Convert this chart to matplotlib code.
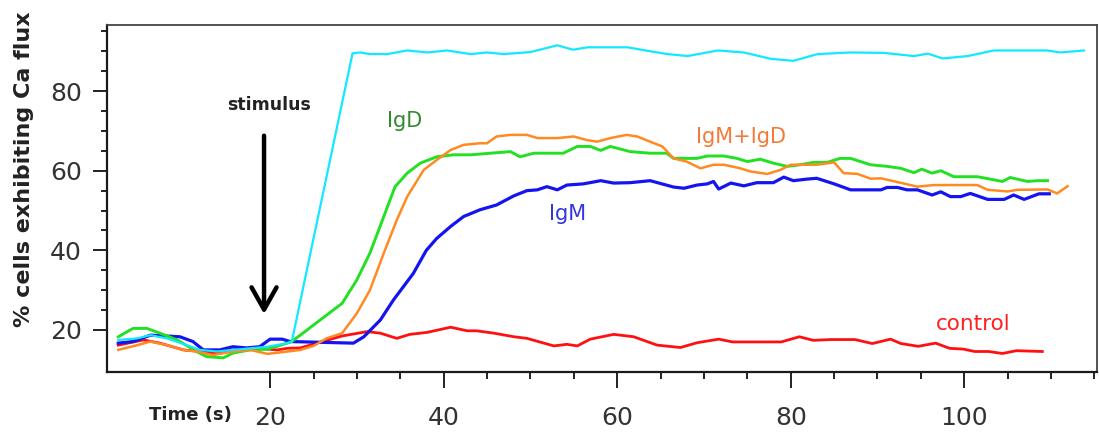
import matplotlib
matplotlib.use("Agg")
import matplotlib.pyplot as plt
from matplotlib.ticker import FixedLocator
from matplotlib.patches import FancyArrowPatch

# Percentage of cells showing calcium flux over time for each stimulus
t_control = [2.5, 5.4, 7.3, 10.0, 11.9, 13.9, 15.7, 18.5, 20.8, 22.0, 23.5, 25.4, 28.3, 31.2, 32.7,
             34.6, 36.1, 38.1, 40.8, 42.7, 43.8, 45.8, 48.1, 49.6, 52.7, 54.2, 55.4, 56.9, 59.6, 61.9,
             64.6, 67.3, 69.2, 71.7, 73.3, 74.9, 78.9, 81.0, 82.6, 84.6, 87.4, 89.4, 91.5, 92.7, 94.7,
             96.7, 98.3, 99.9, 101.2, 102.8, 104.4, 106.0, 109.0]
control = [16.2, 17.5, 16.7, 15.0, 14.6, 14.2, 15.0, 15.4, 15.0, 15.4, 15.5, 16.7, 18.5, 19.6, 19.2,
           17.9, 18.9, 19.4, 20.7, 19.8, 19.8, 19.2, 18.3, 17.9, 16.0, 16.4, 16.0, 17.7, 18.9, 18.3,
           16.2, 15.6, 16.8, 17.7, 17.0, 17.0, 17.0, 18.3, 17.4, 17.6, 17.6, 16.6, 17.7, 16.6, 15.9,
           16.7, 15.4, 15.2, 14.6, 14.6, 14.1, 14.8, 14.6]

t_igm = [2.5, 4.2, 6.2, 9.6, 11.1, 12.3, 14.2, 15.7, 17.3, 18.8, 20.0, 21.4, 22.3, 29.6, 30.8,
         32.7, 34.2, 36.5, 38.0, 39.2, 40.8, 42.3, 44.2, 46.1, 48.1, 49.6, 50.8, 51.9, 53.1, 54.2,
         56.1, 58.1, 59.6, 61.5, 63.8, 66.5, 67.7, 69.2, 70.4, 71.1, 71.7, 73.1, 74.6, 76.1, 78.0,
         79.2, 80.3, 81.9, 83.0, 85.0, 86.9, 90.4, 91.1, 92.3, 93.4, 94.6, 96.3, 97.3, 98.4, 99.6,
         100.7, 102.7, 104.6, 105.7, 106.9, 108.6, 109.8]
igm = [16.7, 17.1, 18.7, 18.3, 17.1, 15.0, 15.0, 15.8, 15.5, 15.8, 17.7, 17.7, 17.1, 16.7, 18.3,
       22.5, 27.5, 34.2, 40.0, 43.0, 46.0, 48.5, 50.2, 51.4, 53.7, 55.0, 55.2, 56.0, 55.2, 56.4,
       56.7, 57.5, 56.9, 57.0, 57.5, 55.9, 55.6, 56.4, 56.7, 57.3, 55.4, 56.9, 56.2, 57.0, 57.0,
       58.4, 57.5, 57.9, 58.1, 56.7, 55.2, 55.2, 55.8, 55.8, 55.2, 55.2, 53.9, 54.7, 53.5, 53.5,
       54.3, 52.8, 52.8, 53.9, 52.8, 54.2, 54.2]

t_igd = [2.5, 4.2, 5.8, 7.3, 9.3, 11.6, 12.7, 14.6, 15.7, 17.7, 19.7, 22.0, 22.5, 28.3, 30.0,
         31.5, 33.1, 34.4, 35.8, 37.3, 39.2, 41.1, 43.1, 45.4, 47.7, 48.8, 50.4, 53.8, 55.4, 56.9,
         58.1, 59.2, 61.5, 63.8, 65.7, 66.5, 69.2, 70.4, 72.3, 73.8, 75.0, 76.5, 78.0, 79.6, 81.1,
         82.6, 84.2, 85.7, 86.9, 89.2, 91.1, 92.7, 94.2, 95.1, 96.3, 97.3, 98.8, 100.0, 101.5, 103.0,
         104.4, 105.3, 107.3, 108.4, 109.6]
igd = [18.3, 20.4, 20.4, 19.2, 17.5, 14.5, 13.3, 13.0, 14.2, 15.0, 15.2, 16.7, 17.1, 26.7, 32.6,
       39.3, 48.5, 56.0, 59.4, 61.9, 63.5, 64.0, 64.0, 64.4, 64.8, 63.5, 64.4, 64.4, 66.1, 66.1,
       65.1, 66.1, 64.8, 64.4, 64.4, 63.1, 63.1, 63.7, 63.7, 63.1, 62.3, 62.9, 61.9, 61.1, 61.5,
       62.1, 62.1, 63.1, 63.1, 61.5, 61.1, 60.6, 59.5, 60.4, 59.4, 60.0, 58.5, 58.5, 58.5, 57.9,
       57.3, 58.3, 57.3, 57.5, 57.5]

t_igm_igd = [2.5, 4.7, 6.2, 8.1, 10.0, 11.6, 13.4, 15.7, 17.7, 19.7, 22.0, 23.5, 25.0, 26.5, 28.3,
             30.0, 31.5, 33.1, 34.6, 35.8, 37.7, 39.2, 40.8, 42.3, 44.2, 45.0, 46.1, 47.7, 49.6, 50.8,
             53.1, 55.0, 56.5, 57.7, 59.2, 61.1, 62.3, 63.8, 65.2, 66.5, 68.0, 69.6, 71.1, 72.3, 74.2,
             75.4, 77.3, 78.8, 80.0, 83.0, 85.0, 86.1, 87.7, 89.2, 90.4, 94.6, 96.5, 101.5, 102.7, 105.0,
             106.1, 109.6, 110.7, 111.9]
igm_igd = [15.0, 16.2, 17.1, 16.2, 15.0, 14.6, 13.7, 14.6, 15.0, 14.0, 14.6, 15.0, 16.0, 17.9, 19.2,
           24.2, 30.0, 39.3, 47.6, 53.5, 60.2, 62.7, 65.2, 66.5, 66.9, 66.9, 68.6, 69.0, 69.0, 68.2,
           68.2, 68.6, 67.7, 67.3, 68.2, 69.0, 68.6, 67.3, 66.1, 63.1, 62.3, 60.6, 61.5, 61.5, 60.6,
           59.8, 59.2, 60.2, 61.5, 61.5, 62.1, 59.4, 59.2, 58.0, 58.1, 56.0, 56.4, 56.4, 55.2, 54.8,
           55.2, 55.3, 54.3, 56.1]

t_ionophore = [2.5, 4.7, 6.2, 8.1, 10.4, 11.9, 13.9, 15.7, 17.7, 19.7, 22.0, 22.5, 29.5, 30.4, 31.5,
               33.5, 35.8, 38.1, 40.4, 43.1, 45.0, 46.9, 50.0, 53.1, 54.9, 56.6, 61.2, 63.8, 65.8, 68.1,
               71.6, 74.6, 77.7, 80.3, 83.1, 86.9, 90.7, 94.2, 95.8, 97.5, 100.4, 103.4, 106.2, 109.6,
               111.1, 113.8]
ionophore = [17.5, 17.9, 18.7, 17.9, 16.2, 15.0, 14.6, 15.0, 15.4, 15.8, 16.7, 17.1, 89.5, 89.7, 89.3,
             89.3, 90.2, 89.7, 90.2, 89.3, 89.7, 89.3, 89.8, 91.5, 90.4, 91.0, 91.0, 90.0, 89.3, 88.8,
             90.2, 89.7, 88.1, 87.6, 89.3, 89.7, 89.6, 88.8, 89.4, 88.2, 88.8, 90.2, 90.2, 90.2,
             89.7, 90.2]

major_x = [20, 40, 60, 80, 100]
major_y = [20, 40, 60, 80]

fig = plt.figure(figsize=(10.99, 4.32), dpi=100)
ax = fig.add_axes([107 / 1099, 1 - 372 / 432, (1097 - 107) / 1099, (372 - 25) / 432])

ax.plot(t_control, control, color="#ff1010", lw=2.0, zorder=3)
ax.plot(t_igm, igm, color="#1414f0", lw=2.3, zorder=4)
ax.plot(t_igd, igd, color="#22e022", lw=2.1, zorder=5)
ax.plot(t_igm_igd, igm_igd, color="#ff8a22", lw=1.8, zorder=6)
ax.plot(t_ionophore, ionophore, color="#12e8ff", lw=1.6, zorder=7)

ax.set_xlim(1.2, 115.3)
ax.set_ylim(9.45, 96.6)

ax.set_xticks(major_x)
ax.set_yticks(major_y)
ax.xaxis.set_minor_locator(FixedLocator([v for v in range(25, 116, 5) if v % 20]))
ax.yaxis.set_minor_locator(FixedLocator([v for v in range(25, 96, 5) if v % 20]))

ax.tick_params(axis="x", which="major", length=11.5, width=1.4, pad=13,
               labelsize=18, labelcolor="#333333", color="#222222")
ax.tick_params(axis="x", which="minor", length=5, width=1.4, color="#222222")
ax.tick_params(axis="y", which="major", length=10, width=1.4, pad=8,
               labelsize=18, labelcolor="#333333", color="#222222")
ax.tick_params(axis="y", which="minor", length=4, width=1.4, color="#222222")

for side in ("left", "bottom"):
    ax.spines[side].set_linewidth(1.6)
    ax.spines[side].set_color("#1a1a1a")
for side in ("top", "right"):
    ax.spines[side].set_linewidth(1.3)
    ax.spines[side].set_color("#444444")

fig.text(24 / 1099, 1 - 169 / 432, "% cells exhibiting Ca flux", rotation=90,
         ha="center", va="center", fontsize=16, fontweight="bold", color="#222222")
fig.text(190 / 1099, 1 - 420 / 432, "Time (s)", ha="center", va="baseline",
         fontsize=13, fontweight="bold", color="#222222")

ax.text(19.9, 76.5, "stimulus", ha="center", va="center", fontsize=12.5,
        fontweight="bold", color="#222222")
ax.add_patch(FancyArrowPatch((19.3, 69.5), (19.3, 23.3),
                             arrowstyle="->,head_length=0.8,head_width=0.45",
                             mutation_scale=20, lw=3.2, color="black", zorder=8))

ax.text(35.5, 71.0, "IgD", ha="center", va="baseline", fontsize=15, color="#2e8b2e")
ax.text(74.3, 67.0, "IgM+IgD", ha="center", va="baseline", fontsize=15, color="#f47a3a")
ax.text(54.3, 47.6, "IgM", ha="center", va="baseline", fontsize=15, color="#3535e0")
ax.text(101.0, 20.0, "control", ha="center", va="baseline", fontsize=15.5, color="#ff2020")

fig.savefig("out.png", dpi=100)
